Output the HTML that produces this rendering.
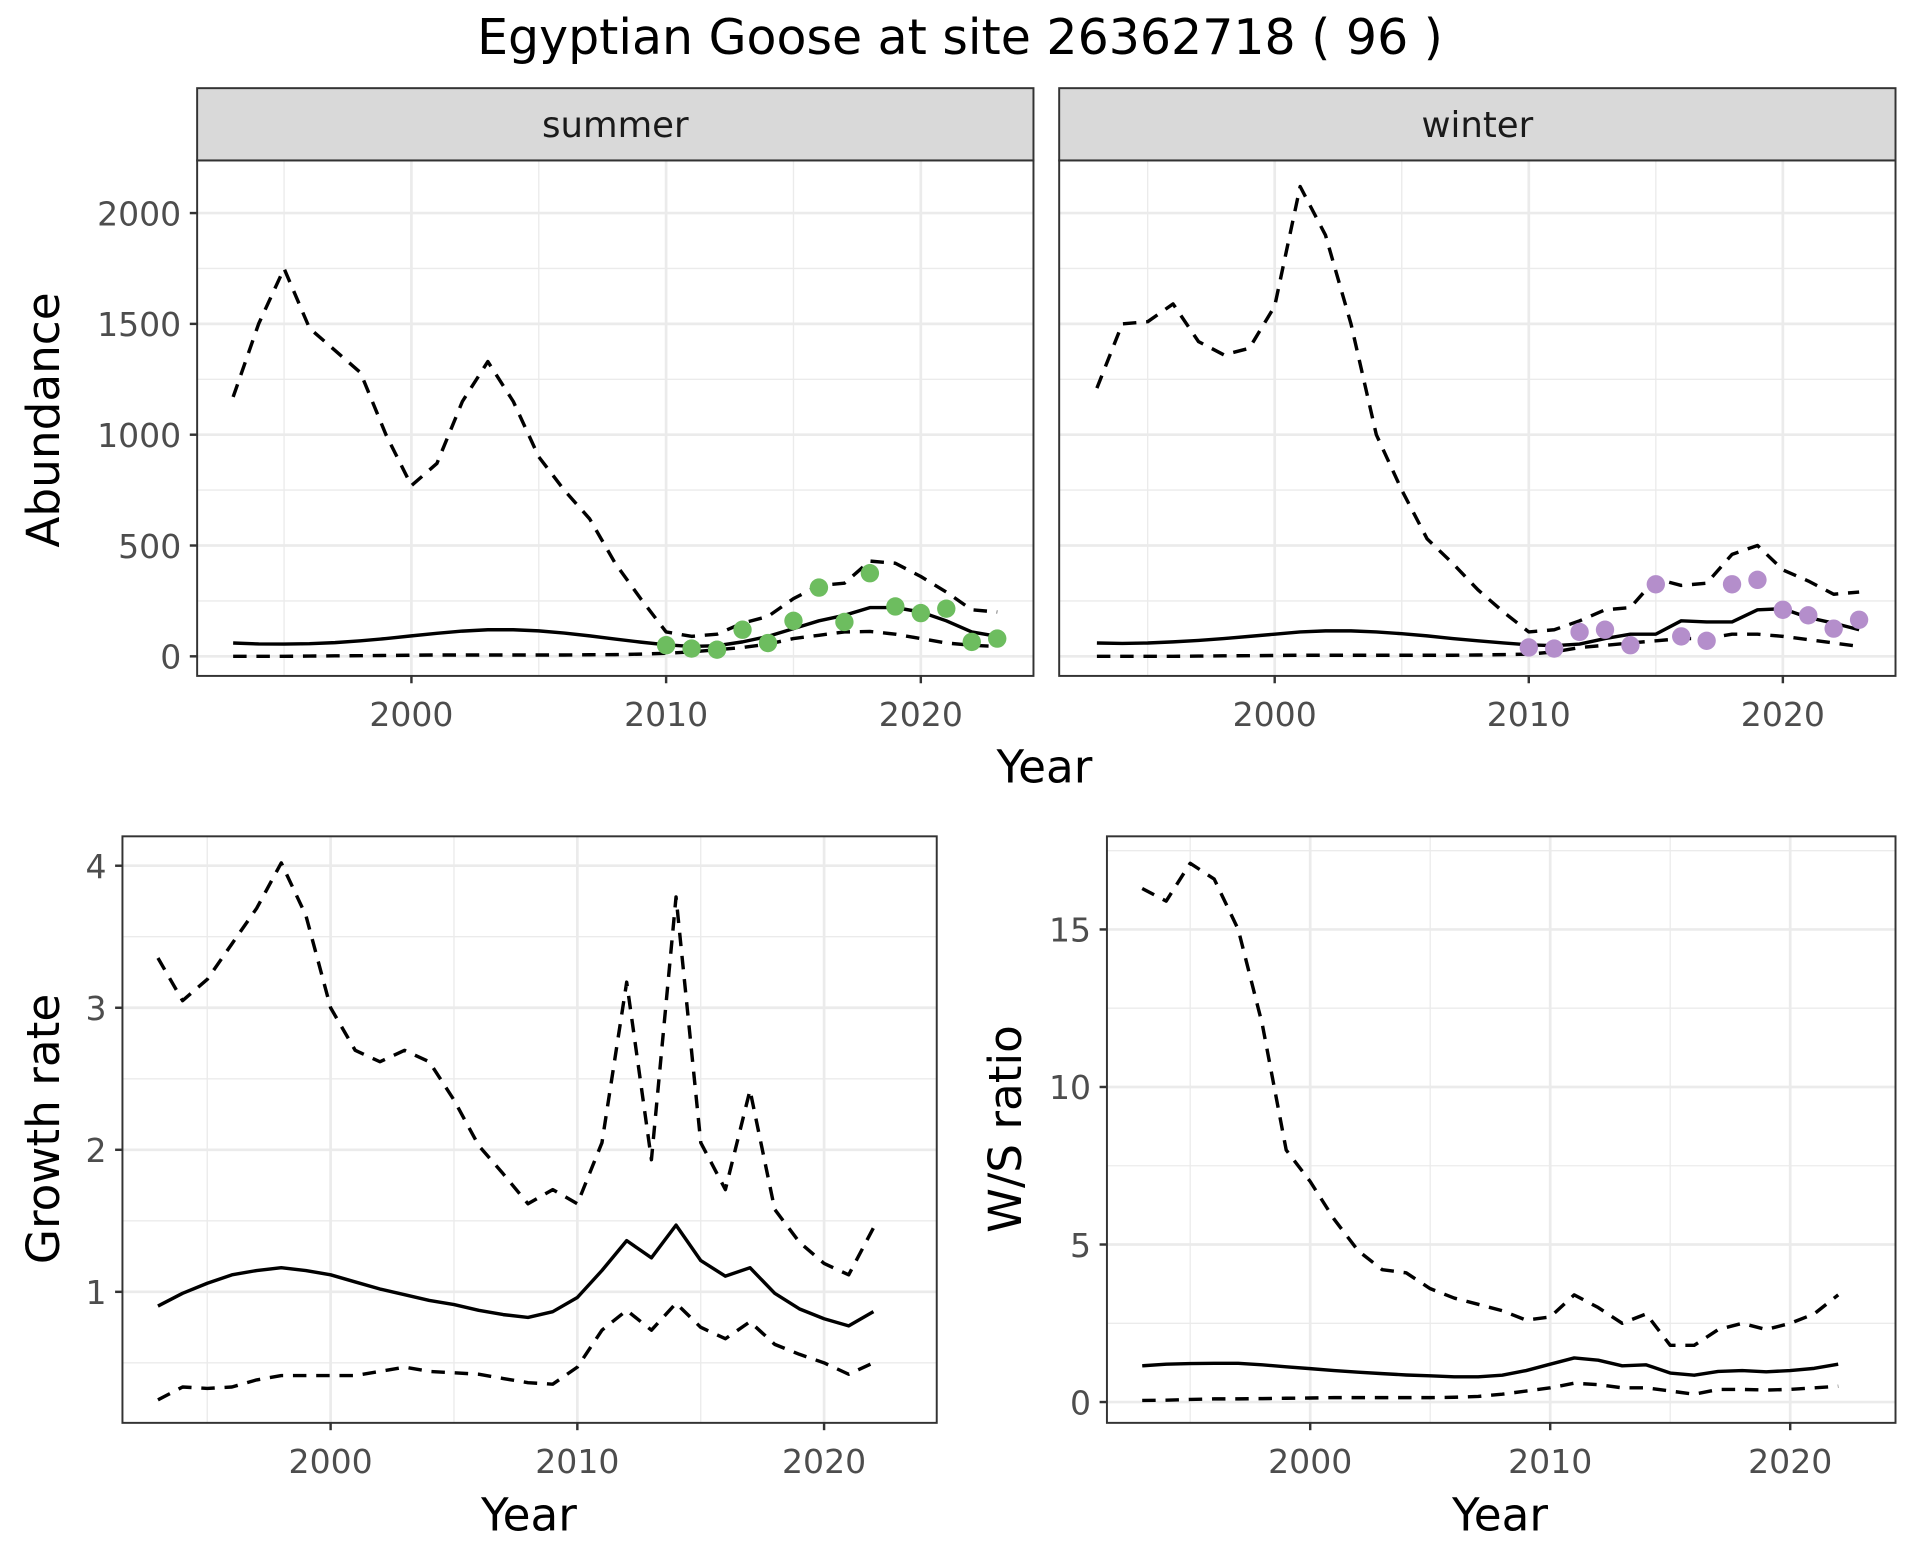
<!DOCTYPE html>
<html><head><meta charset="utf-8"><style>html,body{margin:0;padding:0;background:#fff}svg{display:block}text{font-family:"DejaVu Sans","Liberation Sans",sans-serif}</style></head>
<body>
<svg id="s" width="1920" height="1560" viewBox="0 0 1568 1274" preserveAspectRatio="none" xmlns="http://www.w3.org/2000/svg"></svg>
<script>
const s=document.getElementById('s');let h='';
function line(pts,dash,w){let d=pts.map((p,i)=>(i?'L':'M')+p[0].toFixed(1)+' '+p[1].toFixed(1)).join('');h+=`<path d="${d}" fill="none" stroke="#000" stroke-width="${w||2.8}" ${dash?'stroke-dasharray="11,8"':''} stroke-linejoin="round"/>`;}
function txt(x,y,t,sz,col,anchor,rot){h+=`<text x="${x}" y="${y}" font-size="${sz}" fill="${col}" text-anchor="${anchor||'middle'}" ${rot?`transform="rotate(-90 ${x} ${y})"`:''}>${t}</text>`;}
function panel(o){
 const X=y=>o.x0+(y-2000)*o.xs, Y=v=>o.y0-v*o.ys;
 h+=`<rect x="${o.l}" y="${o.t}" width="${o.r-o.l}" height="${o.b-o.t}" fill="#fff"/>`;
 o.minY.forEach(v=>h+=`<line x1="${o.l}" x2="${o.r}" y1="${Y(v)}" y2="${Y(v)}" stroke="#ebebeb" stroke-width="1.1"/>`);
 [1995,2005,2015].forEach(v=>h+=`<line y1="${o.t}" y2="${o.b}" x1="${X(v)}" x2="${X(v)}" stroke="#ebebeb" stroke-width="1.1"/>`);
 o.majY.forEach(v=>h+=`<line x1="${o.l}" x2="${o.r}" y1="${Y(v)}" y2="${Y(v)}" stroke="#ebebeb" stroke-width="2.2"/>`);
 [2000,2010,2020].forEach(v=>h+=`<line y1="${o.t}" y2="${o.b}" x1="${X(v)}" x2="${X(v)}" stroke="#ebebeb" stroke-width="2.2"/>`);
 o.series.forEach(sr=>line(sr.d.map((v,i)=>[X(sr.s+i),Y(v)]),sr.dash));
 if(o.pts)o.pts.forEach((v,i)=>h+=`<circle cx="${X(2010+i)}" cy="${Y(v)}" r="7.5" fill="${o.pc}"/>`);
 h+=`<rect x="${o.l}" y="${o.t}" width="${o.r-o.l}" height="${o.b-o.t}" fill="none" stroke="#333" stroke-width="1.6"/>`;
 [2000,2010,2020].forEach(v=>{h+=`<line y1="${o.b}" y2="${o.b+6}" x1="${X(v)}" x2="${X(v)}" stroke="#333" stroke-width="2"/>`;txt(X(v),o.b+41,v,27,'#4d4d4d');});
 if(o.ylab)o.majY.forEach((v,i)=>{h+=`<line x1="${o.l-6}" x2="${o.l}" y1="${Y(v)}" y2="${Y(v)}" stroke="#333" stroke-width="2"/>`;txt(o.l-13,Y(v)+10,o.ylab[i],27,'#4d4d4d','end');});
 if(o.strip){h+=`<rect x="${o.l}" y="72" width="${o.r-o.l}" height="${o.t-72}" fill="#d9d9d9" stroke="#333" stroke-width="1.6"/>`;txt((o.l+o.r)/2,112,o.strip,29,'#1a1a1a');}
}
function ser(s,d,dash){return{s,d,dash};}
const sumU=[1170,1500,1750,1480,1380,1280,1000,770,870,1150,1330,1150,900,750,620,420,260,110,90,100,150,180,260,320,330,430,420,360,290,210,200];
const sumM=[60,56,55,57,62,70,80,92,104,114,120,120,115,105,92,78,64,52,45,48,65,90,125,160,185,220,220,200,160,110,90];
const sumL=[0,0,0,1,2,3,4,5,6,6,6,6,6,6,7,8,10,14,20,30,40,55,80,95,110,112,100,80,60,50,45];
const sumP=[50,35,30,120,60,160,310,155,375,225,195,215,65,80];
const winU=[1210,1500,1510,1590,1420,1360,1390,1580,2120,1900,1500,1000,750,530,420,300,200,110,120,160,210,220,350,320,330,460,500,390,340,280,290];
const winM=[60,58,60,65,72,80,90,100,110,115,115,110,102,92,80,70,60,52,48,55,80,100,100,160,155,155,210,215,175,150,120,110];
const winL=[0,0,0,0,1,2,3,4,5,5,5,5,5,5,5,6,8,10,20,40,50,60,70,80,80,100,100,90,75,60,45];
const common={t:131,b:552,y0:536,ys:0.181,majY:[0,500,1000,1500,2000],minY:[250,750,1250,1750]};
panel(Object.assign({},common,{l:161,r:844,x0:336,xs:20.8,series:[ser(1993,sumU,1),ser(1993,sumM,0),ser(1993,sumL,1)],pts:sumP,pc:'#6dbd5f',ylab:['0','500','1000','1500','2000'],strip:'summer'}));
panel(Object.assign({},common,{l:865,r:1548,x0:1041,xs:20.75,series:[ser(1993,winU,1),ser(1993,winM.slice(0,31),0),ser(1993,winL,1)],pts:[40,35,110,120,50,325,90,70,325,345,210,185,125,165],pc:'#b48ecb',strip:'winter'}));
const gU=[3.35,3.05,3.2,3.45,3.7,4.02,3.65,3.0,2.7,2.62,2.7,2.62,2.35,2.03,1.83,1.62,1.72,1.62,2.05,3.18,1.93,3.78,2.05,1.72,2.42,1.58,1.35,1.2,1.12,1.45];
const gM=[0.9,0.99,1.06,1.12,1.15,1.17,1.15,1.12,1.07,1.02,0.98,0.94,0.91,0.87,0.84,0.82,0.86,0.96,1.15,1.36,1.24,1.47,1.22,1.11,1.17,0.99,0.88,0.81,0.76,0.86];
const gL=[0.24,0.33,0.32,0.33,0.38,0.41,0.41,0.41,0.41,0.44,0.47,0.44,0.43,0.42,0.39,0.36,0.35,0.47,0.73,0.87,0.73,0.92,0.75,0.67,0.79,0.63,0.56,0.5,0.42,0.5];
panel({l:100,r:765,t:683,b:1162,x0:270,xs:20.15,y0:1171,ys:116,majY:[1,2,3,4],minY:[0.5,1.5,2.5,3.5],series:[ser(1993,gU,1),ser(1993,gM,0),ser(1993,gL,1)],ylab:['1','2','3','4']});
const wU=[16.3,15.9,17.1,16.6,15,12,8,7,5.8,4.8,4.2,4.1,3.6,3.3,3.1,2.9,2.6,2.7,3.4,3.0,2.5,2.8,1.8,1.8,2.3,2.5,2.3,2.5,2.8,3.4];
const wM=[1.15,1.2,1.22,1.23,1.23,1.18,1.12,1.06,1.0,0.95,0.9,0.86,0.83,0.8,0.8,0.85,1.0,1.2,1.4,1.33,1.15,1.18,0.92,0.85,0.97,1.0,0.96,1.0,1.07,1.2];
const wL=[0.05,0.06,0.08,0.1,0.1,0.11,0.12,0.13,0.14,0.14,0.14,0.14,0.14,0.15,0.18,0.25,0.35,0.45,0.6,0.55,0.45,0.45,0.35,0.25,0.4,0.4,0.38,0.4,0.45,0.5];
panel({l:904,r:1548,t:683,b:1162,x0:1070,xs:19.6,y0:1145,ys:25.73,majY:[0,5,10,15],minY:[2.5,7.5,12.5,17.5],series:[ser(1993,wU,1),ser(1993,wM,0),ser(1993,wL,1)],ylab:['0','5','10','15']});
txt(784,44,'Egyptian Goose at site 26362718 ( 96 )',40,'#000');
txt(853,639,'Year',37,'#000');txt(432,1250,'Year',37,'#000');txt(1225,1250,'Year',37,'#000');
txt(48,343,'Abundance',37,'#000','middle',1);txt(48,922,'Growth rate',37,'#000','middle',1);txt(834,922,'W/S ratio',37,'#000','middle',1);
s.innerHTML=h;
</script>
</body></html>
